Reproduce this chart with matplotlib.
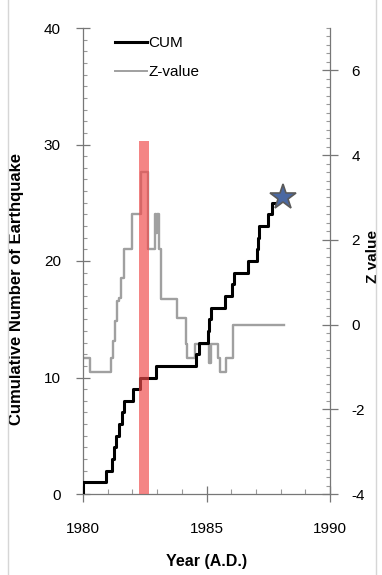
import matplotlib
matplotlib.use("Agg")
import matplotlib.pyplot as plt
from matplotlib.ticker import MultipleLocator
from matplotlib.lines import Line2D

plt.rcParams['font.family'] = ['Liberation Sans', 'DejaVu Sans']
plt.rcParams['axes.unicode_minus'] = False

# Cumulative number of earthquakes (step series)
cum_years = [1980.00, 1980.00, 1980.93, 1981.17, 1981.25, 1981.33, 1981.47, 1981.56,
             1981.68, 1982.02, 1982.32, 1982.95, 1984.56, 1984.70, 1985.05, 1985.12,
             1985.20, 1985.73, 1986.05, 1986.12, 1986.70, 1987.05, 1987.09, 1987.13,
             1987.50, 1987.65, 1987.90]
cum_counts = [0, 1, 2, 3, 4, 5, 6, 7, 8, 9, 10, 11, 12, 13, 14, 15, 16, 17, 18, 19,
              20, 21, 22, 23, 24, 25, 25]

# Z-value (step series, right axis)
z_years = [1980.00, 1980.30, 1981.15, 1981.22, 1981.28, 1981.38, 1981.45, 1981.52,
           1981.65, 1981.97, 1982.34, 1982.63, 1982.92, 1982.97, 1983.00, 1983.06,
           1983.15, 1983.80, 1984.17, 1984.22, 1984.52, 1985.09, 1985.17, 1985.45,
           1985.55, 1985.80, 1986.08, 1988.15]
z_values = [-0.80, -1.12, -0.80, -0.40, 0.08, 0.55, 0.62, 1.10,
            1.78, 2.60, 3.60, 1.78, 2.60, 2.15, 2.60, 1.78,
            0.60, 0.15, -0.45, -0.80, -0.47, -0.90, -0.45, -0.80,
            -1.12, -0.80, 0.00, 0.00]

# Highlighted interval and current-state marker
band_start, band_end, band_top = 1982.27, 1982.66, 30.3
star_year, star_count = 1988.08, 25.5

x_ticks = [1980, 1985, 1990]
left_ticks = [0, 10, 20, 30, 40]
right_ticks = [-4, -2, 0, 2, 4, 6]

fig = plt.figure(figsize=(3.82, 5.75), dpi=100)
ax = fig.add_axes([83 / 382, 81 / 575, 247 / 382, 466 / 575])
ax2 = ax.twinx()

ax2.step(z_years, z_values, where='post', color='#a0a0a0', lw=1.7, zorder=2)
ax.step(cum_years, cum_counts, where='post', color='black', lw=2.2, zorder=3)
ax.fill_between([band_start, band_end], 0, band_top, color='#f04c4c', alpha=0.68,
                lw=0, zorder=4)
ax.plot([star_year], [star_count], marker='*', ms=19, color='#4a68a2',
        mec='#5a5a5a', mew=1.2, zorder=6, clip_on=False)

# put left axes (with black line, band, star) above twin axes
ax.set_zorder(ax2.get_zorder() + 1)
ax.patch.set_visible(False)

ax.set_xlim(1980, 1990)
ax.set_ylim(0, 40)
ax2.set_ylim(-4, 7)
ax.set_xticks(x_ticks)
ax.set_yticks(left_ticks)
ax2.set_yticks(right_ticks)
ax.xaxis.set_minor_locator(MultipleLocator(1))
ax.yaxis.set_minor_locator(MultipleLocator(1))
ax2.yaxis.set_minor_locator(MultipleLocator(0.2))

for a in (ax, ax2):
    a.spines['top'].set_visible(False)
    for s in a.spines.values():
        s.set_color('#777777')
        s.set_linewidth(0.9)
ax.spines['right'].set_visible(False)
ax2.spines['left'].set_visible(False)
ax2.spines['bottom'].set_visible(False)

ax.tick_params(axis='x', which='major', direction='inout', length=11, width=0.9,
               color='#777777', pad=15, labelsize=11)
ax.tick_params(axis='x', which='minor', direction='in', length=3.5, width=0.8,
               color='#999999')
ax.tick_params(axis='y', which='major', direction='inout', length=10, width=0.9,
               color='#777777', pad=11, labelsize=11)
ax.tick_params(axis='y', which='minor', direction='in', length=3, width=0.8,
               color='#999999')
ax2.tick_params(axis='y', which='major', direction='inout', length=11, width=0.9,
                color='#777777', pad=10, labelsize=11)
ax2.tick_params(axis='y', which='minor', direction='in', length=3, width=0.8,
                color='#999999')

ax.set_xlabel('Year (A.D.)', fontsize=11.5, fontweight='bold')
ax.xaxis.set_label_coords(0.5, -0.128)
ax.set_ylabel('Cumulative Number of Earthquake', fontsize=12, fontweight='bold')
ax.yaxis.set_label_coords(-0.24, 0.44)
ax2.set_ylabel('Z value', fontsize=11, fontweight='bold')
ax2.yaxis.set_label_coords(1.145, 0.51)

handles = [Line2D([], [], color='black', lw=2.2),
           Line2D([], [], color='#a0a0a0', lw=1.4)]
ax.legend(handles, ['CUM', 'Z-value'], loc='upper left', bbox_to_anchor=(0.13, 0.983),
          frameon=False, borderpad=0, borderaxespad=0, handlelength=2.1,
          handletextpad=0.1, labelspacing=1.0, fontsize=11)

# thin frame lines at the figure's sides
for xf in (7.5 / 382, 376 / 382):
    fig.add_artist(Line2D([xf, xf], [0, 1], transform=fig.transFigure,
                          color='#d6d6d6', lw=1))

fig.savefig('out.png', dpi=100)
